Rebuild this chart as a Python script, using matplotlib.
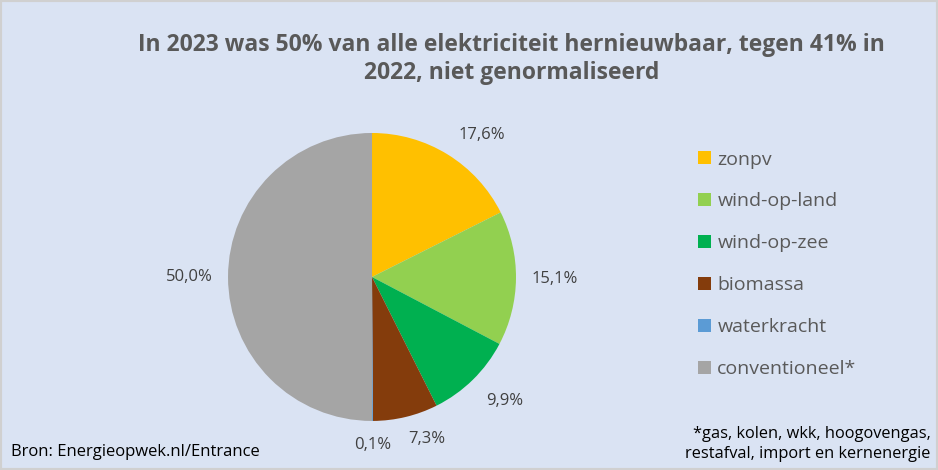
import numpy as np
import matplotlib.pyplot as plt
from matplotlib.patches import Rectangle

# Data
labels = ['zonpv', 'wind-op-land', 'wind-op-zee', 'biomassa', 'waterkracht', 'conventioneel*']
values = [17.6, 15.1, 9.9, 7.3, 0.1, 50.0]
colors = ['#FFC000', '#92D050', '#00B050', '#843C0C', '#5B9BD5', '#A5A5A5']

title = 'In 2023 was 50% van alle elektriciteit hernieuwbaar, tegen 41% in\n2022, niet genormaliseerd'
source = 'Bron: Energieopwek.nl/Entrance'
footnote = '*gas, kolen, wkk, hoogovengas,\nrestafval, import en kernenergie'

# value label placement: distance from centre (pie radii) and angle nudge (degrees)
label_dist = [1.25, 1.27, 1.26, 1.19, 1.17, 1.27]
label_nudge = [-6, 0, 2.5, 5, 0, 0]

plt.rcParams['font.family'] = ['Open Sans', 'DejaVu Sans']

bg = '#DAE3F3'
fig = plt.figure(figsize=(9.38, 4.70), dpi=100, facecolor=bg)
fig.patches.append(Rectangle((0, 0), 1, 1, transform=fig.transFigure, fill=False,
                             edgecolor='#D0D0D0', linewidth=3))

ax = fig.add_axes([0.2431, 0.1043, 0.307, 0.6128])
ax.set_facecolor(bg)
wedges, texts = ax.pie(values, colors=colors, startangle=90, counterclock=False,
                       labels=[f'{v:.1f}%'.replace('.', ',') for v in values],
                       textprops=dict(color='#404040', fontsize=12))
for w, t, d, n in zip(wedges, texts, label_dist, label_nudge):
    ang = np.deg2rad((w.theta1 + w.theta2) / 2 + n)
    t.set_position((d * np.cos(ang), d * np.sin(ang)))
    t.set_ha('center')
    t.set_va('center')
ax.set_xlim(-1, 1)
ax.set_ylim(-1, 1)
ax.set_aspect('equal')

fig.text(0.545, 0.874, title, ha='center', va='center', fontsize=16.5,
         fontweight='bold', color='#595959', linespacing=1.25)

handles = [Rectangle((0, 0), 1, 1, facecolor=c) for c in colors]
fig.legend(handles, labels, loc='upper left', bbox_to_anchor=(0.7254, 0.717),
           frameon=False, fontsize=14, labelcolor='#595959',
           handlelength=0.65, handleheight=0.65, handletextpad=0.35,
           labelspacing=1.23)

fig.text(0.012, 0.038, source, ha='left', va='center', fontsize=12, color='#000000')
fig.text(0.992, 0.055, footnote, ha='right', va='center', fontsize=11.8,
         color='#000000', linespacing=1.35)

fig.savefig('out.png', dpi=100, facecolor=bg)
